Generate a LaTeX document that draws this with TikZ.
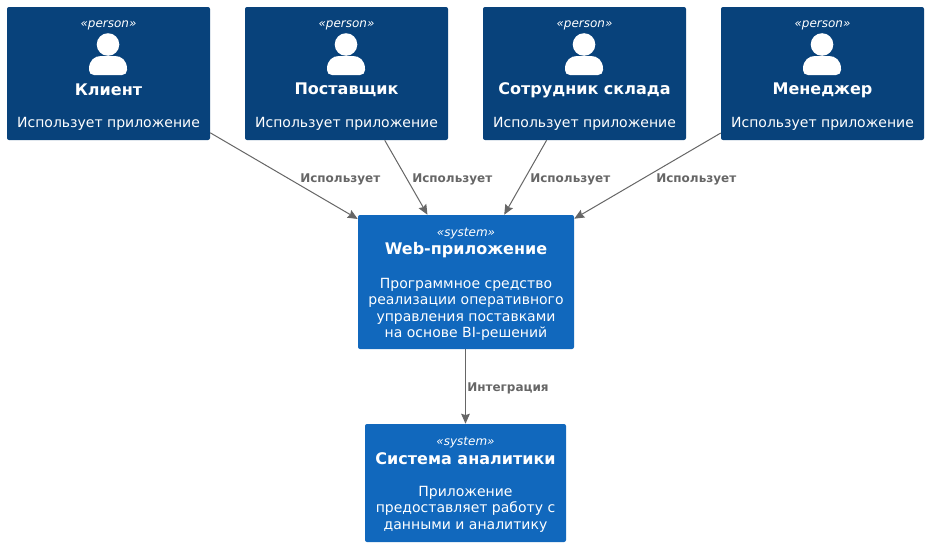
\documentclass[tikz,border=0pt]{standalone}
\usepackage{fontspec}
\setmainfont{DejaVu Sans}
\usetikzlibrary{arrows.meta}
\definecolor{personc}{HTML}{08427B}
\definecolor{systemc}{HTML}{1168BD}
\definecolor{linec}{HTML}{666666}
\newcommand{\fsTag}{\fontsize{9}{10}\selectfont\itshape}
\newcommand{\fsName}{\fontsize{12}{14}\selectfont\bfseries}
\newcommand{\fsDesc}{\fontsize{10.5}{12.3}\selectfont}
\newcommand{\fsLink}{\fontsize{9}{10}\selectfont\bfseries}
\tikzset{
  x=0.75pt,y=-0.75pt,
  c4box/.style={draw=none,rounded corners=1.5pt,inner sep=0pt,minimum height=133*0.75pt},
  personbox/.style={c4box,fill=personc,minimum width=203*0.75pt},
  webbox/.style={c4box,fill=systemc,minimum width=216*0.75pt,minimum height=134*0.75pt},
  sysbox/.style={c4box,fill=systemc,minimum width=201*0.75pt,minimum height=118*0.75pt},
  tagtext/.style={text=white,font=\fsTag,inner sep=0pt,anchor=center},
  nametext/.style={text=white,font=\fsName,inner sep=0pt,anchor=center},
  desctext/.style={text=white,font=\fsDesc,inner sep=0pt,anchor=center,align=center},
  rel/.style={draw=linec,line width=0.75pt,-{Stealth[length=7.5pt,width=6.5pt,inset=1pt]}},
  rellabel/.style={text=linec,font=\fsLink,inner sep=0pt,anchor=west},
}
\newcommand{\personicon}[1]{%
  \fill[white] (#1,44.5) circle[radius=11.3];
  \fill[white] (#1-14,75) -- (#1+14,75)
     .. controls (#1+17,75) and (#1+19,73) .. (#1+19,70) -- (#1+19,69)
     .. controls (#1+19,60) and (#1+13,56) .. (#1+7,56) -- (#1-7,56)
     .. controls (#1-13,56) and (#1-19,60) .. (#1-19,69) -- (#1-19,70)
     .. controls (#1-19,73) and (#1-17,75) .. (#1-14,75) -- cycle;
}
\begin{document}
\begin{tikzpicture}
\useasboundingbox (0,0) rectangle (928,546);
\fill[white] (0,0) rectangle (928,546);
\node[personbox] (klient) at (108.5,73.5) {};
\node[personbox] (post) at (346.5,73.5) {};
\node[personbox] (sklad) at (584.5,73.5) {};
\node[personbox] (manager) at (822.5,73.5) {};
\node[webbox] (web) at (466,282) {};
\node[sysbox] (sys) at (465.5,483) {};
\personicon{108}
\personicon{346}
\personicon{584}
\personicon{822}
\foreach \n/\cx/\t in {k/108.5/Клиент,p/346.5/Поставщик,s/584.5/Сотрудник склада,m/822.5/Менеджер}{
  \node[tagtext] (tag\n) at (\cx,25) {«person»};
  \node[nametext] (name\n) at (\cx,90) {\t};
  \node[desctext] (desc\n) at (\cx,123.5) {Использует приложение};
}
\node[tagtext] (tagw) at (466,233.5) {«system»};
\node[nametext] (namew) at (466,250.5) {Web-приложение};
\node[desctext] (descw) at (466,309.5) {Программное средство\\реализации оперативного\\управления поставками\\на основе BI-решений};
\node[tagtext] (tags) at (465.5,443) {«system»};
\node[nametext] (names) at (465.5,458.5) {Система аналитики};
\node[desctext] (descs) at (465.5,509) {Приложение\\предоставляет работу с\\данными и аналитику};
\draw[rel] (klient) -- (web);
\draw[rel] (post) -- (web);
\draw[rel] (sklad) -- (web);
\draw[rel] (manager) -- (web);
\draw[rel] (web.south -| sys.north) -- (sys.north);
\node[rellabel] (l1) at (300,179) {Использует};
\node[rellabel] (l2) at (412,179) {Использует};
\node[rellabel] (l3) at (530,179) {Использует};
\node[rellabel] (l4) at (656,179) {Использует};
\node[rellabel] (l5) at (467,388) {Интеграция};
\end{tikzpicture}
\end{document}
